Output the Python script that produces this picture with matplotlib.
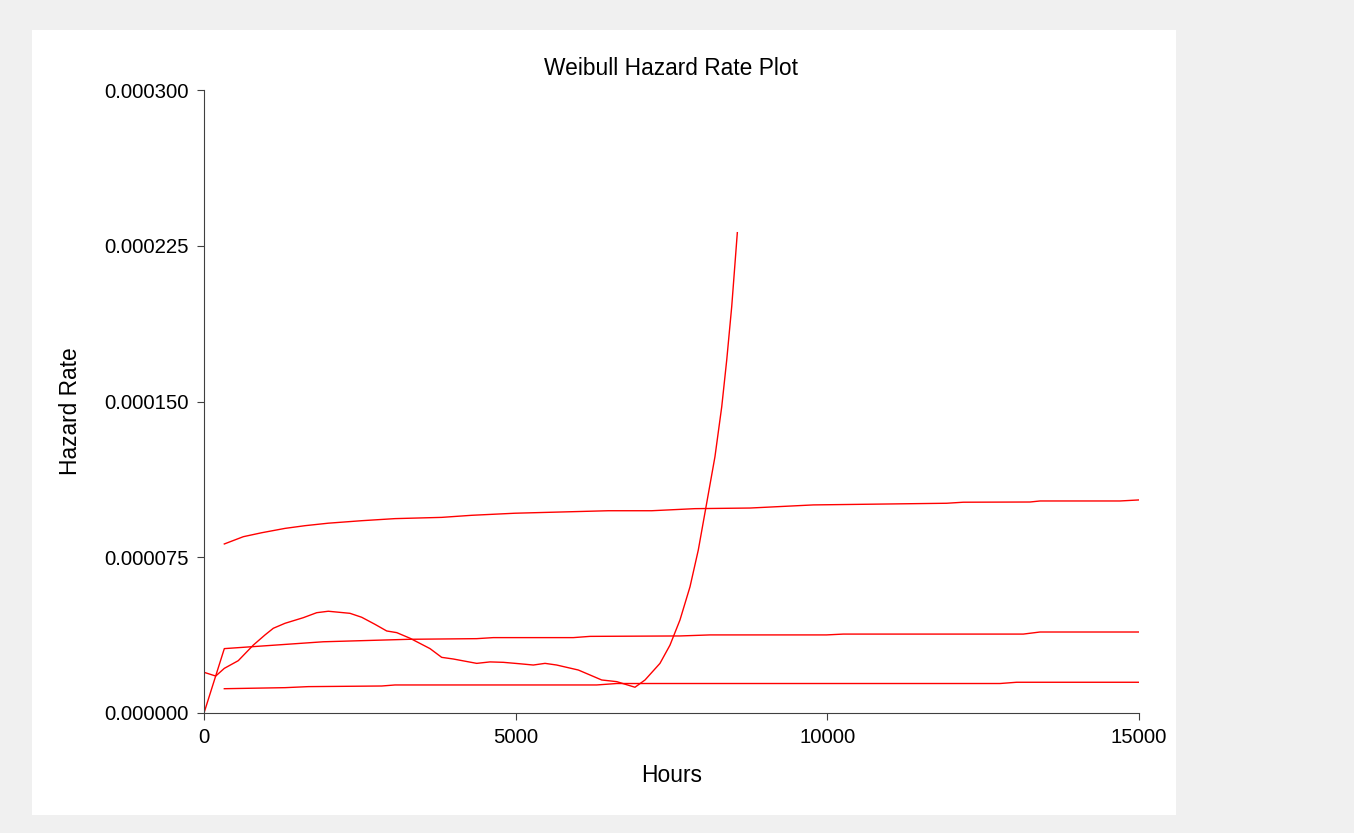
import matplotlib.pyplot as plt
from matplotlib.patches import Rectangle

TITLE = "Weibull Hazard Rate Plot"
X_LABEL = "Hours"
Y_LABEL = "Hazard Rate"

X_TICKS = [0, 5000, 10000, 15000]
Y_TICKS = [0.0, 0.000075, 0.000150, 0.000225, 0.000300]

# hazard rates in units of 1e-6 per hour
upper_hours = [326, 631, 925, 1300, 1620, 1994, 2530, 3064, 3813, 4294, 4989,
               5738, 6487, 7182, 7877, 8760, 9775, 10845, 11915, 12181, 13251,
               13412, 14695, 15000]
upper_rate = [81.4, 84.9, 86.8, 88.9, 90.2, 91.4, 92.6, 93.6, 94.2, 95.2, 96.2,
              96.8, 97.4, 97.4, 98.4, 98.7, 100.2, 100.6, 101.0, 101.5, 101.6,
              102.1, 102.1, 102.6]

middle_hours = [0, 326, 1914, 3305, 4375, 4641, 5925, 6193, 7636, 8117, 9986,
                10256, 13144, 13412, 15000]
middle_rate = [0.0, 31.0, 34.3, 35.5, 35.8, 36.3, 36.3, 36.9, 37.1, 37.6, 37.6,
               38.0, 38.0, 39.0, 39.0]

lower_hours = [326, 1300, 1674, 2851, 3064, 6300, 6621, 12770, 13037, 15000]
lower_rate = [11.7, 12.2, 12.7, 13.0, 13.5, 13.5, 14.2, 14.2, 14.8, 14.8]

# empirical hazard estimate
empirical_hours = [0, 188, 326, 550, 791, 979, 1112, 1300, 1593, 1808, 1994,
                   2342, 2530, 2743, 2931, 3092, 3305, 3626, 3813, 4000, 4375,
                   4588, 4802, 5070, 5283, 5471, 5658, 6005, 6193, 6380, 6621,
                   6914, 7075, 7315, 7476, 7636, 7797, 7930, 8064, 8197, 8306,
                   8386, 8466, 8556]
empirical_rate = [19.6, 17.8, 21.5, 25.2, 32.7, 37.6, 40.8, 43.2, 45.9, 48.3, 49.0,
                  48.0, 46.1, 42.7, 39.5, 38.7, 36.0, 31.0, 26.8, 26.0, 23.9,
                  24.6, 24.4, 23.7, 23.1, 23.9, 23.1, 20.7, 18.3, 15.9, 15.1,
                  12.4, 15.9, 23.9, 32.7, 44.8, 60.8, 78.5, 101.0, 123.4, 147.5,
                  170.0, 195.7, 231.3]

plt.rcParams['font.family'] = ['Liberation Sans', 'DejaVu Sans']

fig = plt.figure(figsize=(13.54, 8.33), dpi=100, facecolor="#f0f0f0")
# white panel behind the plot
fig.patches.append(Rectangle((32 / 1354, 1 - 815 / 833), (1176 - 32) / 1354,
                             (815 - 30) / 833, transform=fig.transFigure,
                             facecolor="white", edgecolor="none", zorder=-10))

ax = fig.add_axes([204 / 1354, 1 - 713 / 833, 935 / 1354, 623 / 833])
ax.set_facecolor("none")

for hours, rate in [(upper_hours, upper_rate), (middle_hours, middle_rate),
                    (lower_hours, lower_rate), (empirical_hours, empirical_rate)]:
    ax.plot(hours, [r * 1e-6 for r in rate], color="#ff0000", lw=1.0)

ax.set_xlim(0, 15000)
ax.set_ylim(0, 0.0003)
ax.set_xticks(X_TICKS)
ax.set_yticks(Y_TICKS)
ax.set_yticklabels([f"{v:.6f}" for v in Y_TICKS])

for side in ("top", "right"):
    ax.spines[side].set_visible(False)
for side in ("left", "bottom"):
    ax.spines[side].set_color("#404040")
    ax.spines[side].set_linewidth(0.8)
ax.tick_params(length=5, width=0.8, color="#404040", labelsize=14.7, pad=6)

ax.set_title(TITLE, fontsize=16.4, pad=11)
ax.set_xlabel(X_LABEL, fontsize=16.4, labelpad=12)
ax.set_ylabel(Y_LABEL, fontsize=16.4)
ax.yaxis.set_label_coords(-0.130, 0.485)

fig.savefig("out.png", dpi=100, facecolor=fig.get_facecolor())
